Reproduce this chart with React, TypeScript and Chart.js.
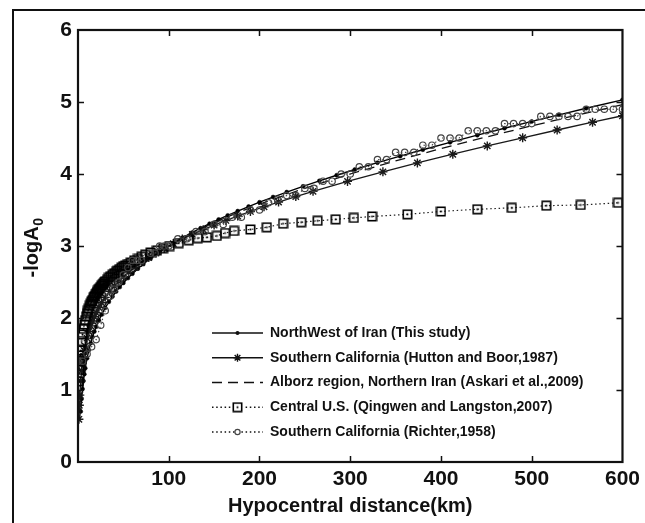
import { useEffect, useRef } from 'react';
import { Chart, registerables } from 'chart.js';

Chart.register(...registerables);

// ---------- data ----------
const seriesLabels = [
  'NorthWest of Iran (This study)',
  'Southern California (Hutton and Boor,1987)',
  'Alborz region, Northern Iran (Askari et al.,2009)',
  'Central U.S. (Qingwen and Langston,2007)',
  'Southern California (Richter,1958)',
];

const xTitle = 'Hypocentral distance(km)';
const yTitleMain = '-logA';
const yTitleSub = '0';

const xTickValues = [0, 100, 200, 300, 400, 500, 600];
const yTickValues = [0, 1, 2, 3, 4, 5, 6];

const nwDistance = [3, 4, 5, 6, 7, 8, 10, 12, 14, 16, 18, 20, 23, 26, 30, 34, 38, 42, 46, 50, 55, 60, 66, 72, 80, 88, 96, 105, 115, 125, 135, 145, 155, 165, 176, 188, 200, 215, 230, 248, 266, 285, 305, 330, 355, 380, 410, 440, 470, 500, 530, 560, 600];
const nwLogA0 = [0.702, 0.877, 1.014, 1.126, 1.22, 1.303, 1.441, 1.555, 1.651, 1.736, 1.811, 1.878, 1.968, 2.047, 2.141, 2.224, 2.299, 2.367, 2.429, 2.487, 2.554, 2.616, 2.685, 2.749, 2.828, 2.9, 2.968, 3.039, 3.113, 3.182, 3.247, 3.31, 3.369, 3.425, 3.485, 3.548, 3.608, 3.68, 3.749, 3.829, 3.905, 3.983, 4.062, 4.157, 4.248, 4.337, 4.44, 4.539, 4.636, 4.73, 4.822, 4.913, 5.03];

const huttonDistance = [1, 1.5, 2, 3, 4, 5, 6, 7, 8, 10, 12, 14, 16, 18, 20, 23, 26, 30, 35, 40, 45, 50, 56, 63, 70, 78, 86, 95, 105, 115, 126, 138, 150, 163, 176, 190, 205, 221, 240, 259, 297, 336, 374, 413, 451, 490, 528, 567, 600];
const huttonLogA0 = [0.593, 0.789, 0.929, 1.126, 1.267, 1.376, 1.466, 1.542, 1.609, 1.72, 1.812, 1.89, 1.958, 2.018, 2.073, 2.146, 2.211, 2.287, 2.371, 2.445, 2.511, 2.571, 2.637, 2.707, 2.771, 2.839, 2.901, 2.966, 3.033, 3.096, 3.161, 3.227, 3.29, 3.355, 3.416, 3.48, 3.545, 3.611, 3.687, 3.759, 3.897, 4.03, 4.154, 4.275, 4.39, 4.503, 4.611, 4.719, 4.809];

const alborzDistance = [2, 3, 4, 5, 6, 8, 10, 13, 16, 20, 25, 30, 40, 50, 60, 70, 80, 90, 100, 120, 140, 160, 180, 200, 250, 300, 350, 400, 450, 500, 550, 600];
const alborzLogA0 = [0.605, 0.836, 1.0, 1.128, 1.233, 1.399, 1.529, 1.683, 1.806, 1.939, 2.075, 2.187, 2.369, 2.514, 2.636, 2.742, 2.836, 2.922, 3.0, 3.141, 3.266, 3.379, 3.484, 3.581, 3.802, 4.0, 4.182, 4.353, 4.514, 4.669, 4.818, 4.962];

const centralDistance = [1, 1.5, 2, 2.5, 3, 4, 5, 6, 7, 8, 9, 10, 11, 12, 13, 14, 15, 16, 17, 18, 19, 20, 21, 22, 23, 24, 25, 26, 27, 28, 29, 30, 32, 34, 36, 38, 40, 42, 44, 46, 48, 50, 52, 55, 58, 62, 66, 70, 74, 80, 87, 94, 101, 111, 122, 132, 142, 153, 162, 172, 190, 208, 226, 246, 264, 284, 304, 324, 363, 400, 440, 478, 516, 554, 595];
const centralLogA0 = [1.12, 1.28, 1.4, 1.48, 1.55, 1.68, 1.77, 1.85, 1.91, 1.97, 2.02, 2.06, 2.1, 2.13, 2.17, 2.2, 2.23, 2.25, 2.28, 2.3, 2.32, 2.34, 2.36, 2.38, 2.4, 2.41, 2.43, 2.45, 2.46, 2.48, 2.5, 2.51, 2.53, 2.56, 2.58, 2.6, 2.62, 2.64, 2.66, 2.68, 2.7, 2.72, 2.73, 2.75, 2.77, 2.8, 2.82, 2.85, 2.88, 2.91, 2.94, 2.97, 3.0, 3.04, 3.08, 3.11, 3.12, 3.14, 3.18, 3.21, 3.23, 3.26, 3.31, 3.33, 3.35, 3.37, 3.39, 3.41, 3.44, 3.48, 3.51, 3.53, 3.56, 3.57, 3.6];

const richterDistance = [0, 5, 10, 15, 20, 25, 30, 35, 40, 45, 50, 55, 60, 65, 70, 80, 85, 90, 95, 100, 110, 120, 130, 140, 150, 160, 170, 180, 190, 200, 210, 220, 230, 240, 250, 260, 270, 280, 290, 300, 310, 320, 330, 340, 350, 360, 370, 380, 390, 400, 410, 420, 430, 440, 450, 460, 470, 480, 490, 500, 510, 520, 530, 540, 550, 560, 570, 580, 590, 600];
const richterLogA0 = [1.4, 1.4, 1.5, 1.6, 1.7, 1.9, 2.1, 2.3, 2.4, 2.5, 2.6, 2.7, 2.8, 2.8, 2.8, 2.9, 2.9, 3.0, 3.0, 3.0, 3.1, 3.1, 3.2, 3.2, 3.3, 3.3, 3.4, 3.4, 3.5, 3.5, 3.6, 3.65, 3.7, 3.7, 3.8, 3.8, 3.9, 3.9, 4.0, 4.0, 4.1, 4.1, 4.2, 4.2, 4.3, 4.3, 4.3, 4.4, 4.4, 4.5, 4.5, 4.5, 4.6, 4.6, 4.6, 4.6, 4.7, 4.7, 4.7, 4.7, 4.8, 4.8, 4.8, 4.8, 4.8, 4.9, 4.9, 4.9, 4.9, 4.9];

const FONT = "'Liberation Sans', Arial, Helvetica, sans-serif";

function toPoints(xs: number[], ys: number[]) {
  return xs.map((x, i) => ({ x, y: ys[i] }));
}

function makeSquareMarker(): HTMLCanvasElement {
  const c = document.createElement('canvas');
  c.width = 11;
  c.height = 11;
  const g = c.getContext('2d')!;
  g.strokeStyle = '#000';
  g.lineWidth = 1.6;
  g.strokeRect(1.3, 1.3, 8.4, 8.4);
  g.fillStyle = '#000';
  g.fillRect(4.6, 4.6, 1.8, 1.8);
  return c;
}

function drawStar(ctx: CanvasRenderingContext2D, x: number, y: number, r: number) {
  ctx.beginPath();
  ctx.moveTo(x - r, y); ctx.lineTo(x + r, y);
  ctx.moveTo(x, y - r); ctx.lineTo(x, y + r);
  const d = r * 0.7071;
  ctx.moveTo(x - d, y - d); ctx.lineTo(x + d, y + d);
  ctx.moveTo(x - d, y + d); ctx.lineTo(x + d, y - d);
  ctx.stroke();
}

export default function App() {
  const ref = useRef<HTMLCanvasElement | null>(null);

  useEffect(() => {
    if (!ref.current) return;
    const square = makeSquareMarker();

    const framePlugin = {
      id: 'frame',
      beforeDraw(chart: any) {
        const ctx = chart.ctx as CanvasRenderingContext2D;
        ctx.save();
        ctx.fillStyle = '#fff';
        ctx.fillRect(0, 0, chart.width, chart.height);
        ctx.strokeStyle = '#111';
        ctx.lineWidth = 2;
        ctx.beginPath();
        ctx.moveTo(13, chart.height);
        ctx.lineTo(13, 10);
        ctx.lineTo(chart.width, 10);
        ctx.stroke();
        ctx.restore();
      },
      afterDatasetsDraw(chart: any) {
        const ctx = chart.ctx as CanvasRenderingContext2D;
        const { left, right, top, bottom } = chart.chartArea;
        const xs = chart.scales.x;
        const ys = chart.scales.y;
        ctx.save();
        ctx.strokeStyle = '#111';
        ctx.lineWidth = 1.5;
        ctx.beginPath();
        xs.ticks.forEach((t: any) => {
          if (t.value <= xs.min || t.value >= xs.max) return;
          const p = Math.round(xs.getPixelForValue(t.value)) + 0.5;
          ctx.moveTo(p, bottom); ctx.lineTo(p, bottom - 6);
          ctx.moveTo(p, top); ctx.lineTo(p, top + 6);
        });
        ys.ticks.forEach((t: any) => {
          if (t.value <= ys.min || t.value >= ys.max) return;
          const p = Math.round(ys.getPixelForValue(t.value)) + 0.5;
          ctx.moveTo(left, p); ctx.lineTo(left + 6, p);
          ctx.moveTo(right, p); ctx.lineTo(right - 6, p);
        });
        ctx.stroke();
        ctx.lineWidth = 2.2;
        ctx.strokeRect(left, top, right - left, bottom - top);

        // y-axis title with subscript, rotated
        ctx.save();
        ctx.translate(31, (top + bottom) / 2 + 2);
        ctx.rotate(-Math.PI / 2);
        ctx.fillStyle = '#111';
        ctx.textBaseline = 'alphabetic';
        ctx.textAlign = 'left';
        ctx.font = `bold 20px ${FONT}`;
        const w1 = ctx.measureText(yTitleMain).width;
        ctx.font = `bold 14px ${FONT}`;
        const w2 = ctx.measureText(yTitleSub).width;
        const sx = -(w1 + w2) / 2;
        ctx.font = `bold 20px ${FONT}`;
        ctx.fillText(yTitleMain, sx, 7);
        ctx.font = `bold 14px ${FONT}`;
        ctx.fillText(yTitleSub, sx + w1 + 0.5, 12);
        ctx.restore();

        // legend (MATLAB style, inside axes, no box)
        const items = [
          { dash: [] as number[], marker: 'dot' },
          { dash: [] as number[], marker: 'star' },
          { dash: [10, 6], marker: 'none' },
          { dash: [1.5, 2.7], marker: 'square' },
          { dash: [1.5, 2.7], marker: 'circle' },
        ];
        const lx0 = 212, lx1 = 263, tx = 270;
        const ly0 = 333, lstep = 24.75;
        ctx.font = `bold 14px ${FONT}`;
        ctx.textBaseline = 'middle';
        ctx.textAlign = 'left';
        items.forEach((it, i) => {
          const y = ly0 + i * lstep;
          const cx = (lx0 + lx1) / 2;
          ctx.strokeStyle = '#111';
          ctx.lineWidth = 1.4;
          ctx.setLineDash(it.dash);
          ctx.beginPath();
          ctx.moveTo(lx0, y); ctx.lineTo(lx1, y);
          ctx.stroke();
          ctx.setLineDash([]);
          if (it.marker === 'dot') {
            ctx.fillStyle = '#111';
            ctx.beginPath(); ctx.arc(cx, y, 2, 0, Math.PI * 2); ctx.fill();
          } else if (it.marker === 'star') {
            ctx.lineWidth = 1.4;
            drawStar(ctx, cx, y, 4);
          } else if (it.marker === 'square') {
            ctx.fillStyle = '#fff';
            ctx.fillRect(cx - 5.5, y - 5.5, 11, 11);
            ctx.drawImage(square, cx - 5.5, y - 5.5);
          } else if (it.marker === 'circle') {
            ctx.fillStyle = '#fff';
            ctx.strokeStyle = '#444';
            ctx.lineWidth = 1.2;
            ctx.beginPath(); ctx.arc(cx, y, 2.6, 0, Math.PI * 2); ctx.fill(); ctx.stroke();
          }
          ctx.fillStyle = '#111';
          ctx.fillText(seriesLabels[i], tx, y);
        });
        ctx.restore();
      },
    };

    const chart = new Chart(ref.current, {
      type: 'line',
      data: {
        datasets: [
          {
            label: seriesLabels[0],
            data: toPoints(nwDistance, nwLogA0),
            borderColor: '#000',
            backgroundColor: '#000',
            borderWidth: 1.4,
            pointStyle: 'circle',
            pointRadius: 2,
            pointBorderWidth: 0.5,
            order: 5,
          },
          {
            label: seriesLabels[1],
            data: toPoints(huttonDistance, huttonLogA0),
            borderColor: '#1a1a1a',
            backgroundColor: '#1a1a1a',
            borderWidth: 1.3,
            pointStyle: 'star',
            pointRadius: 4.5,
            pointBorderWidth: 1.4,
            order: 4,
          },
          {
            label: seriesLabels[2],
            data: toPoints(alborzDistance, alborzLogA0),
            borderColor: '#111',
            borderWidth: 1.3,
            borderDash: [10, 6],
            pointRadius: 0,
            order: 3,
          },
          {
            label: seriesLabels[3],
            data: toPoints(centralDistance, centralLogA0),
            borderColor: '#222',
            borderWidth: 1.2,
            borderDash: [1.5, 2.7],
            pointStyle: square as any,
            pointRadius: 5,
            order: 2,
          },
          {
            label: seriesLabels[4],
            data: toPoints(richterDistance, richterLogA0),
            borderColor: '#444',
            backgroundColor: 'rgba(255,255,255,0)',
            borderWidth: 1.1,
            borderDash: [1.5, 2.7],
            pointStyle: 'circle',
            pointRadius: 3.2,
            pointBorderColor: '#444',
            pointBorderWidth: 1.2,
            order: 1,
          },
        ],
      },
      options: {
        responsive: false,
        animation: false,
        events: [],
        layout: { padding: { left: 0, right: 18, top: 30, bottom: 0 } },
        plugins: {
          legend: { display: false },
          tooltip: { enabled: false },
        },
        elements: { line: { tension: 0 } },
        scales: {
          x: {
            type: 'linear',
            min: 0,
            max: 600,
            afterFit: (s: any) => { s.height = 61; },
            afterBuildTicks: (s: any) => { s.ticks = xTickValues.map((v) => ({ value: v })); },
            grid: { display: false, drawTicks: false },
            border: { display: false },
            ticks: {
              padding: 5,
              color: '#111',
              font: { family: FONT, size: 21, weight: 'bold' },
              callback: (v: any) => (v === 0 ? '' : String(v)),
              maxRotation: 0,
              autoSkip: false,
            },
            title: {
              display: true,
              text: xTitle,
              color: '#111',
              font: { family: FONT, size: 20, weight: 'bold' },
              padding: { top: 0, bottom: 5 },
            },
          },
          y: {
            type: 'linear',
            min: 0,
            max: 6,
            afterFit: (s: any) => { s.width = 78; },
            afterBuildTicks: (s: any) => { s.ticks = yTickValues.map((v) => ({ value: v })); },
            grid: { display: false, drawTicks: false },
            border: { display: false },
            ticks: {
              padding: 6,
              color: '#111',
              font: { family: FONT, size: 21, weight: 'bold' },
              autoSkip: false,
            },
            title: { display: false },
          },
        },
      },
      plugins: [framePlugin],
    } as any);

    return () => chart.destroy();
  }, []);

  return (
    <div style={{ position: 'fixed', left: 0, top: 0, width: 645, height: 523, background: '#fff' }}>
      <canvas ref={ref} width={645} height={523} style={{ display: 'block', width: 645, height: 523 }} />
    </div>
  );
}
